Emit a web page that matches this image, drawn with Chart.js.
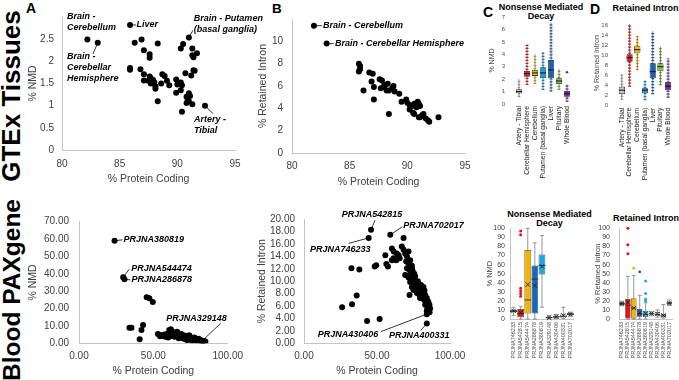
<!DOCTYPE html>
<html><head><meta charset="utf-8">
<script src="https://cdn.jsdelivr.net/npm/chart.js"></script>
<style>
html,body{margin:0;padding:0;background:#fff}
body{position:relative;width:679px;height:380px;overflow:hidden;font-family:"Liberation Sans",Arial,sans-serif;color:#000}
canvas{position:absolute}
.v{position:absolute;white-space:nowrap;font-weight:bold;line-height:1;transform:translate(-50%,-50%) rotate(-90deg)}
.t{position:absolute;white-space:nowrap;font-weight:bold;transform:translate(-50%,-50%);text-align:center}
.p{position:absolute;font-weight:bold;line-height:1}
</style></head>
<body>
<div class="v" style="left:11px;top:96px;font-size:26px">GTEx Tissues</div>
<div class="v" style="left:12px;top:290px;font-size:24.5px">Blood PAXgene</div>
<div class="p" style="left:26px;top:1px;font-size:14px">A</div>
<div class="p" style="left:272px;top:2px;font-size:13.5px">B</div>
<div class="p" style="left:483px;top:5px;font-size:14px">C</div>
<div class="p" style="left:590px;top:1.5px;font-size:14px">D</div>
<div class="t" style="left:541px;top:11.5px;font-size:9px;line-height:9px">Nonsense Mediated<br>Decay</div>
<div class="t" style="left:645.5px;top:8px;font-size:9px;line-height:9px">Retained Intron</div>
<div class="t" style="left:549.5px;top:218.5px;font-size:9px;line-height:9px">Nonsense Mediated<br>Decay</div>
<div class="t" style="left:646px;top:218px;font-size:9px;line-height:9px">Retained Intron</div>
<script>
// ---------- DATA ----------
// A: GTEx tissues, % protein coding vs % NMD
const gtexNmdCoding = [82.2, 83.1, 85.9, 91.0, 92.4, 86.3, 86.9, 87.1, 87.6, 87.6, 88.3, 85.9, 85.9, 86.8, 87.1, 87.1, 87.6, 87.7, 87.9, 87.5, 88.0, 87.7, 88.1, 88.1, 88.3, 88.7, 88.9, 88.6, 89.1, 89.3, 89.9, 89.9, 90.0, 90.3, 90.4, 90.3, 90.4, 90.3, 90.5, 90.7, 90.8, 90.9, 91.0, 90.8, 91.1, 91.3, 91.0, 91.3, 91.3, 91.4, 91.7, 91.4, 91.2, 91.5];
const gtexNmdPct = [2.49, 2.42, 2.82, 2.54, 1.00, 2.42, 2.49, 2.25, 2.16, 2.08, 2.40, 1.85, 1.81, 1.82, 1.71, 1.57, 1.66, 1.62, 1.58, 1.56, 1.53, 1.50, 1.44, 1.38, 1.10, 1.71, 1.67, 1.50, 1.56, 1.46, 1.59, 1.29, 1.48, 1.52, 1.46, 1.35, 0.86, 2.29, 2.39, 1.73, 1.20, 1.15, 1.10, 1.06, 1.22, 1.03, 1.28, 2.29, 2.14, 2.09, 2.18, 1.80, 1.68, 1.79];
// B: GTEx tissues, % protein coding vs % retained intron
const gtexRiCoding = [81.9, 83.0, 85.8, 85.9, 85.8, 85.9, 86.7, 87.0, 86.9, 86.2, 87.1, 87.1, 87.6, 87.8, 87.7, 88.0, 88.3, 88.4, 88.7, 88.9, 88.2, 88.8, 88.0, 88.4, 89.3, 89.5, 89.9, 90.0, 90.2, 90.4, 90.6, 90.8, 90.2, 91.0, 91.1, 90.5, 90.6, 90.9, 91.0, 91.0, 91.1, 91.3, 91.4, 91.6, 91.8, 91.9, 92.7];
const gtexRiPct = [11.4, 9.8, 8.0, 7.8, 7.3, 7.5, 7.2, 7.1, 6.4, 5.6, 4.8, 5.9, 6.6, 6.5, 5.8, 5.9, 6.2, 5.6, 5.8, 5.5, 5.6, 6.0, 6.1, 3.5, 5.3, 4.6, 4.8, 4.5, 4.3, 4.2, 4.4, 4.1, 3.9, 4.3, 4.2, 3.6, 3.5, 4.6, 4.4, 3.2, 3.2, 3.4, 3.5, 3.1, 2.9, 2.8, 3.2];
// Blood PAXgene: % protein coding vs % NMD
const paxNmdCoding = [23.9, 29.7, 30.6, 82.2, 45.5, 47.3, 49.6, 33.9, 35.3, 43.1, 42.0, 40.8, 53.1, 55.1, 56.9, 59.2, 60.7, 61.8, 62.9, 64.3, 65.8, 68.1, 69.6, 71.4, 73.2, 74.8, 76.3, 78.1, 79.9, 81.5, 83.0, 58.0, 67.0, 70.8, 77.0, 62.5, 72.5, 64.7, 68.8, 74.1, 79.2, 82.6, 54.5, 57.5, 60.0, 63.5, 66.5, 69.0, 71.0, 73.8, 75.5, 77.5, 80.5, 84.0, 85.0, 78.8, 76.0, 66.0, 61.0];
const paxNmdPct = [59.0, 38.0, 36.8, 0.9, 26.5, 26.0, 23.8, 9.0, 9.0, 10.6, 7.6, 2.4, 5.4, 4.8, 4.2, 5.4, 7.7, 8.1, 6.7, 3.8, 4.8, 4.4, 3.5, 3.8, 2.9, 3.6, 2.5, 2.9, 2.3, 1.9, 1.5, 3.8, 2.9, 2.5, 1.9, 4.2, 1.9, 5.8, 5.4, 4.6, 1.5, 1.0, 4.0, 5.0, 3.3, 5.0, 3.5, 3.0, 4.5, 2.2, 3.0, 3.4, 2.6, 1.3, 1.1, 1.8, 1.4, 6.6, 5.6];
// Blood PAXgene: % protein coding vs % retained intron
const paxRiCoding = [45.9, 44.3, 59.1, 84.1, 84.1, 68.2, 26.1, 32.9, 36.1, 32.5, 37.9, 43.2, 51.8, 48.4, 49.5, 55.7, 56.4, 57.5, 60.2, 61.4, 63.6, 61.4, 63.2, 60.2, 65.5, 67.0, 68.2, 64.8, 69.3, 70.5, 71.6, 70.0, 71.6, 72.7, 70.5, 72.3, 73.9, 69.3, 71.6, 73.2, 74.5, 75.0, 72.7, 76.1, 73.9, 76.1, 77.3, 75.0, 78.4, 79.5, 77.3, 79.1, 80.7, 81.4, 80.2, 81.8, 79.5, 82.3, 83.0, 84.1, 83.6, 85.2, 84.5, 85.9, 85.2, 86.4, 84.1, 83.0, 72.3, 74.0, 75.5, 78.0, 82.5, 86.0];
const paxRiPct = [18.3, 17.0, 17.5, 4.7, 3.2, 17.0, 5.8, 6.3, 7.7, 12.1, 11.9, 3.6, 3.9, 12.4, 12.6, 14.2, 12.8, 12.4, 15.3, 14.8, 14.5, 13.7, 13.4, 13.4, 13.7, 15.6, 15.1, 14.2, 14.5, 14.0, 14.8, 13.2, 12.9, 13.4, 12.1, 11.8, 12.5, 11.0, 10.6, 11.0, 11.6, 10.2, 9.9, 10.8, 9.1, 9.4, 8.9, 8.6, 9.7, 8.9, 8.1, 7.8, 8.3, 7.5, 9.4, 9.1, 7.3, 7.0, 7.8, 7.3, 6.5, 6.7, 5.9, 6.2, 5.5, 5.6, 5.3, 6.2, 7.8, 12.0, 11.2, 10.0, 8.5, 5.0];

// C / D (top): GTEx tissue box plots
const gtexTissues = ['Artery - Tibial', 'Cerebellar Hemisphere', 'Cerebellum', 'Putamen (basal ganglia)', 'Liver', 'Pituitary', 'Whole Blood'];
const gtexNmdQ1 = [0.86, 2.20, 2.26, 2.07, 2.07, 1.61, 0.59];
const gtexNmdMedian = [1.00, 2.45, 2.50, 2.50, 2.74, 1.85, 0.82];
const gtexNmdQ3 = [1.19, 2.66, 2.74, 2.96, 3.55, 2.07, 1.05];
const gtexNmdLow = [0.54, 1.53, 1.60, 1.13, 1.00, 1.13, 0.19];
const gtexNmdHigh = [1.99, 4.76, 4.00, 4.20, 6.56, 2.80, 1.60];
const gtexNmdOutliers = [[], [], [], [], [], [], [2.55]];
const gtexRiQ1 = [2.34, 8.80, 10.50, 2.50, 5.50, 6.90, 3.10];
const gtexRiMedian = [3.10, 9.60, 11.20, 3.10, 6.80, 7.80, 3.90];
const gtexRiQ3 = [3.80, 10.30, 12.00, 3.50, 8.50, 8.50, 4.80];
const gtexRiLow = [1.14, 3.80, 7.10, 1.10, 2.30, 4.10, 1.60];
const gtexRiHigh = [6.30, 16.30, 14.00, 5.10, 14.90, 11.80, 9.50];
const gtexRiOutliers = [[], [], [], [], [], [], []];

// C / D (bottom): PAXgene project box plots
const paxProjects = ['PRJNA746233', 'PRJNA542815', 'PRJNA544474', 'PRJNA286878', 'PRJNA380819', 'PRJNA329148', 'PRJNA430406', 'PRJNA400331', 'PRJNA702017'];
const paxNmdQ1 = [7.5, 2, 6, 6, 49, 0.8, 1.5, 2, 4];
const paxNmdMedian = [8.5, 6, 21, 44, 59, 1.5, 2.5, 3, 5];
const paxNmdQ3 = [10, 11, 76, 59, 71, 2.5, 3.5, 5, 6.5];
const paxNmdMean = [9, 7, 38, 37, 58, 1.6, 2.6, 4, 5.2];
const paxNmdLow = [4, 0, 0, 0, 13, 0, 0.5, 0.5, 3];
const paxNmdHigh = [13, 14, 100, 84, 92, 4, 5, 13, 7.5];
const paxNmdOutliers = [[], [25, 28, 31, 34, 93, 97], [], [], [], [], [], [], []];
const paxRiQ1 = [15.5, 0.5, 0.5, 2.5, 2, 5, 3.5, 2, 16];
const paxRiMedian = [17, 15, 12, 6, 5, 6, 5, 3.5, 17.5];
const paxRiQ3 = [18.5, 22, 23, 11, 9, 7, 7.5, 5.5, 19];
const paxRiMean = [17, 18.5, 12, 6.5, 6, 6, 5.5, 4, 17.5];
const paxRiLow = [14.5, 0, 0, 0, 0, 3.5, 2, 1, 15];
const paxRiHigh = [19.5, 47, 48, 26, 18, 8, 10, 16, 21];
const paxRiOutliers = [[], [72, 82, 100], [56], [52], [42, 28, 22, 20], [], [], [], []];

// ---------- STYLE / LAYOUT ----------
const FONT = '"Liberation Sans", Arial, sans-serif';
Chart.defaults.font.family = FONT;
Chart.defaults.animation = false;
Chart.defaults.responsive = false;
Chart.defaults.events = [];
Chart.defaults.plugins.legend.display = false;
Chart.defaults.plugins.tooltip.enabled = false;
const AXIS = '#c4c4c4', TICK = '#404040';
const gtexColors = ['#c4c4c4', '#e8161b', '#f5b700', '#1aa0dc', '#1a64b4', '#7dc242', '#6d2e9e'];
const paxColors = ['#2e2e48', '#f00c0c', '#f5b400', '#1766b8', '#1ea8e2', '#e2e2e2', '#e2e2e2', '#e2e2e2', '#808080'];

function line(ctx, x1, y1, x2, y2) { ctx.beginPath(); ctx.moveTo(x1, y1); ctx.lineTo(x2, y2); ctx.stroke(); }

function mkCanvas(L, T, W, H) {
  const c = document.createElement('canvas');
  c.width = W; c.height = H;
  c.style.cssText = `left:${L}px;top:${T}px;width:${W}px;height:${H}px`;
  document.body.appendChild(c);
  return c;
}

function layoutFor(f) {
  const yLH = f.yTitleSize * 1.2, xLH = (f.xTitleSize || 10) * 1.2;
  const padLeft = f.yTitleX - yLH / 2 - f.L;
  return {
    padLeft,
    yw: f.plot[0] - f.L - padLeft,
    padTop: f.plot[1] - f.T,
    padRight: f.L + f.W - f.plot[2],
    xh: f.T + f.H - f.plot[3],
    xTitlePadBottom: f.xTitleY ? f.T + f.H - f.xTitleY - xLH / 2 : 0
  };
}

function makeAnnot(xs, ys, items) {
  return { id: 'annot', afterDatasetsDraw(chart) {
    const sx = chart.scales.x, sy = chart.scales.y, ctx = chart.ctx;
    ctx.save();
    ctx.strokeStyle = '#000'; ctx.fillStyle = '#000'; ctx.lineWidth = 0.8;
    ctx.font = 'italic bold 9px ' + FONT;
    ctx.textBaseline = 'middle'; ctx.textAlign = 'left';
    items.forEach(it => {
      const px = sx.getPixelForValue(xs[it.i]), py = sy.getPixelForValue(ys[it.i]);
      if (it.line) line(ctx, px, py, px + it.line[0], py + it.line[1]);
      it.text.split('\n').forEach((t, k) => ctx.fillText(t, px + it.dx, py + it.dy + k * 10.8));
    });
    ctx.restore();
  }};
}

function scatter(f, xs, ys, ax, items) {
  const g = layoutFor(f);
  return new Chart(mkCanvas(f.L, f.T, f.W, f.H), {
    type: 'scatter',
    data: { datasets: [{ data: xs.map((x, i) => ({ x, y: ys[i] })), pointRadius: 3, backgroundColor: '#000', borderColor: '#000', borderWidth: 0 }] },
    options: {
      devicePixelRatio: 1,
      layout: { padding: { left: g.padLeft, top: g.padTop, right: g.padRight, bottom: 0 } },
      scales: {
        x: { type: 'linear', min: ax.xmin, max: ax.xmax, afterFit: s => { s.height = g.xh; },
             grid: { display: false, drawTicks: false }, border: { display: true, color: AXIS },
             ticks: { stepSize: ax.xstep, autoSkip: false, padding: ax.xpad, color: TICK, font: { size: 10 }, callback: v => ax.dec ? v.toFixed(ax.dec) : String(v) },
             title: { display: true, text: '% Protein Coding', color: TICK, font: { size: f.xTitleSize }, padding: { top: 0, bottom: g.xTitlePadBottom } } },
        y: { type: 'linear', min: 0, max: ax.ymax, afterFit: s => { s.width = g.yw; },
             grid: { display: false, drawTicks: false }, border: { display: true, color: AXIS },
             ticks: { stepSize: ax.ystep, autoSkip: false, padding: ax.ypad, color: TICK, font: { size: 10 },
                      callback: v => (ax.hideMax && v === ax.ymax) ? '' : (ax.dec ? v.toFixed(ax.dec) : String(v)) },
             title: { display: true, text: ax.ytitle, color: TICK, font: { size: f.yTitleSize }, padding: 0 } }
      }
    },
    plugins: [makeAnnot(xs, ys, items)]
  });
}

function makeBoxPlugin(s, st) {
  return { id: 'boxextras',
    beforeDatasetsDraw(chart) {
      const sx = chart.scales.x, sy = chart.scales.y, ctx = chart.ctx;
      ctx.save();
      s.low.forEach((lo, i) => {
        const x = sx.getPixelForValue(i), y1 = sy.getPixelForValue(lo), y2 = sy.getPixelForValue(s.high[i]);
        if (st.dotWidth) {
          ctx.strokeStyle = st.colors[i]; ctx.lineWidth = st.dotWidth; ctx.setLineDash([1.2, 1.8]);
          line(ctx, x, y1, x, y2); ctx.setLineDash([]);
        }
        ctx.strokeStyle = st.whisker; ctx.lineWidth = st.whiskerW; line(ctx, x, y1, x, y2);
        if (st.cap) { line(ctx, x - st.cap, y1, x + st.cap, y1); line(ctx, x - st.cap, y2, x + st.cap, y2); }
      });
      ctx.restore();
    },
    afterDatasetsDraw(chart) {
      const sx = chart.scales.x, sy = chart.scales.y, ctx = chart.ctx, meta = chart.getDatasetMeta(0);
      ctx.save();
      s.median.forEach((m, i) => {
        const x = sx.getPixelForValue(i), w = meta.data[i].width / 2, y = sy.getPixelForValue(m);
        ctx.strokeStyle = st.medianColor; ctx.lineWidth = st.medianW; line(ctx, x - w, y, x + w, y);
      });
      if (s.mean) s.mean.forEach((m, i) => {
        const x = sx.getPixelForValue(i), y = sy.getPixelForValue(m), r = st.meanSize;
        ctx.strokeStyle = '#222'; ctx.lineWidth = 0.9;
        line(ctx, x - r, y - r, x + r, y + r); line(ctx, x - r, y + r, x + r, y - r);
      });
      s.outliers.forEach((arr, i) => arr.forEach(v => {
        const x = sx.getPixelForValue(i), y = sy.getPixelForValue(v);
        ctx.fillStyle = st.colors[i]; ctx.beginPath(); ctx.arc(x, y, st.outR, 0, 2 * Math.PI); ctx.fill();
      }));
      ctx.restore();
    }
  };
}

function boxChart(f, cats, s, st) {
  const g = layoutFor(f);
  return new Chart(mkCanvas(f.L, f.T, f.W, f.H), {
    type: 'bar',
    data: { labels: cats, datasets: [{ data: s.q1.map((v, i) => [v, s.q3[i]]), backgroundColor: st.colors, borderColor: st.edge, borderWidth: st.edgeW, borderSkipped: false, barPercentage: st.barPct, categoryPercentage: 1 }] },
    options: {
      devicePixelRatio: 1,
      layout: { padding: { left: g.padLeft, top: g.padTop, right: g.padRight, bottom: 0 } },
      scales: {
        x: { type: 'category', afterFit: sc => { sc.height = g.xh; }, grid: { display: false, drawTicks: false }, border: { display: st.axisLine, color: AXIS },
             ticks: { autoSkip: false, minRotation: 90, maxRotation: 90, padding: st.xpad, color: st.labelColor, font: { size: st.labelSize } } },
        y: { type: 'linear', min: 0, max: st.ymax, afterFit: sc => { sc.width = g.yw; }, grid: { display: false, drawTicks: false }, border: { display: st.axisLine, color: AXIS },
             ticks: { stepSize: st.ystep, includeBounds: false, autoSkip: false, padding: st.ypad, color: st.tickColor, font: { size: st.tickSize } },
             title: { display: true, text: st.ytitle, color: st.tickColor, font: { size: f.yTitleSize }, padding: 0 } }
      }
    },
    plugins: [makeBoxPlugin(s, st)]
  });
}

// ---------- CHARTS ----------
scatter({ L: 20, T: 0, W: 245, H: 190, plot: [62, 17, 235, 150], yTitleX: 33, yTitleSize: 10.5, xTitleY: 179, xTitleSize: 10.5 },
  gtexNmdCoding, gtexNmdPct,
  { xmin: 80, xmax: 95, xstep: 5, ymax: 3, ystep: 0.5, hideMax: true, xpad: 8, ypad: 8, ytitle: '% NMD' },
  [ { i: 0, text: 'Brain -\nCerebellum', dx: -20.4, dy: -22.6 },
    { i: 1, text: 'Brain -\nCerebellar\nHemisphere', dx: -30.8, dy: 13.8, line: [-4.8, 11.3] },
    { i: 2, text: 'Liver', dx: 6.5, dy: -0.5, line: [6, 0] },
    { i: 3, text: 'Brain - Putamen\n(basal ganglia)', dx: 5, dy: -19, line: [4, -7] },
    { i: 4, text: 'Artery -\nTibial', dx: -11, dy: 14.3, line: [8, 8] } ]);

scatter({ L: 250, T: 0, W: 240, H: 190, plot: [292, 19, 465, 153], yTitleX: 263.3, yTitleSize: 10.5, xTitleY: 181.7, xTitleSize: 10.5 },
  gtexRiCoding, gtexRiPct,
  { xmin: 80, xmax: 95, xstep: 5, ymax: 12, ystep: 2, hideMax: true, xpad: 7, ypad: 9, ytitle: '% Retained Intron' },
  [ { i: 0, text: 'Brain - Cerebellum', dx: 9, dy: 0, line: [8, 0] },
    { i: 1, text: 'Brain - Cerebellar Hemisphere', dx: 8.4, dy: 0, line: [7, 0] } ]);

scatter({ L: 20, T: 190, W: 230, H: 190, plot: [79, 221.7, 230, 343.3], yTitleX: 33.3, yTitleSize: 10.5, xTitleY: 371, xTitleSize: 10.5 },
  paxNmdCoding, paxNmdPct,
  { xmin: 0, xmax: 100, xstep: 50, ymax: 70, ystep: 10, dec: 2, xpad: 7, ypad: 10, ytitle: '% NMD' },
  [ { i: 0, text: 'PRJNA380819', dx: 9, dy: -1.5, line: [8, -1] },
    { i: 1, text: 'PRJNA544474', dx: 8, dy: -8.6, line: [6, -8] },
    { i: 2, text: 'PRJNA286878', dx: 7, dy: 0.6, line: [6, 0.5] },
    { i: 3, text: 'PRJNA329148', dx: -35, dy: -23.7, line: [19.5, -18.5] } ]);

scatter({ L: 250, T: 190, W: 230, H: 190, plot: [304, 219.3, 450, 343.3], yTitleX: 261.7, yTitleSize: 10.5, xTitleY: 370.7, xTitleSize: 10.5 },
  paxRiCoding, paxRiPct,
  { xmin: 0, xmax: 100, xstep: 50, ymax: 20, ystep: 2, dec: 2, xpad: 7, ypad: 9, ytitle: '% Retained Intron' },
  [ { i: 0, text: 'PRJNA542815', dx: -29.3, dy: -15.5, line: [4, -9.5] },
    { i: 1, text: 'PRJNA746233', dx: -58.7, dy: 12.1, line: [-20, 5.5] },
    { i: 2, text: 'PRJNA702017', dx: 13, dy: -8.8, line: [12, -8] },
    { i: 3, text: 'PRJNA430406', dx: -109.1, dy: 20.1, line: [-46, 17.5] },
    { i: 4, text: 'PRJNA400331', dx: -37.8, dy: 11.8, line: [-6, 7] } ]);

const topStyle = { edge: '#2a2a2a', edgeW: 0.8, whisker: '#333', whiskerW: 0.6, dotWidth: 3, cap: 0, medianColor: '#111', medianW: 1, meanSize: 0, outR: 1.3,
  axisLine: false, xpad: 2, labelColor: '#1a1a1a', labelSize: 6.7, tickColor: '#4d4d4d', tickSize: 6 };
boxChart({ L: 483, T: 0, W: 96, H: 192, plot: [515, 17, 571, 104], yTitleX: 491.7, yTitleSize: 7 }, gtexTissues,
  { q1: gtexNmdQ1, q3: gtexNmdQ3, median: gtexNmdMedian, low: gtexNmdLow, high: gtexNmdHigh, outliers: gtexNmdOutliers },
  Object.assign({}, topStyle, { colors: gtexColors, barPct: 0.78, ymax: 7, ystep: 1, ypad: 10, ytitle: '% NMD' }));
boxChart({ L: 588, T: 0, W: 91, H: 192, plot: [618, 20.7, 672, 105.7], yTitleX: 596.7, yTitleSize: 7 }, gtexTissues,
  { q1: gtexRiQ1, q3: gtexRiQ3, median: gtexRiMedian, low: gtexRiLow, high: gtexRiHigh, outliers: gtexRiOutliers },
  Object.assign({}, topStyle, { colors: gtexColors, barPct: 0.8, ymax: 17, ystep: 2, ypad: 10, ytitle: '% Retained Intron' }));

const botStyle = { edge: '#3a3a3a', edgeW: 0.7, whisker: '#7f7f7f', whiskerW: 0.8, dotWidth: 0, cap: 2, medianColor: '#333', medianW: 0.9, meanSize: 2.2, outR: 1.5,
  axisLine: true, xpad: 3, labelColor: '#505050', labelSize: 5.5, tickColor: '#404040', tickSize: 7 };
boxChart({ L: 480, T: 195, W: 100, H: 185, plot: [510, 228.3, 580, 319], yTitleX: 490, yTitleSize: 7.5 }, paxProjects,
  { q1: paxNmdQ1, q3: paxNmdQ3, median: paxNmdMedian, mean: paxNmdMean, low: paxNmdLow, high: paxNmdHigh, outliers: paxNmdOutliers },
  Object.assign({}, botStyle, { colors: paxColors, barPct: 0.95, ymax: 100, ystep: 10, ypad: 5, ytitle: '% NMD' }));
boxChart({ L: 590, T: 195, W: 89, H: 185, plot: [619, 228.3, 677, 319], yTitleX: 598, yTitleSize: 7.5 }, paxProjects,
  { q1: paxRiQ1, q3: paxRiQ3, median: paxRiMedian, mean: paxRiMean, low: paxRiLow, high: paxRiHigh, outliers: paxRiOutliers },
  Object.assign({}, botStyle, { colors: paxColors, barPct: 0.92, ymax: 100, ystep: 10, ypad: 9, ytitle: '% Retained Intron' }));
</script>
</body></html>
